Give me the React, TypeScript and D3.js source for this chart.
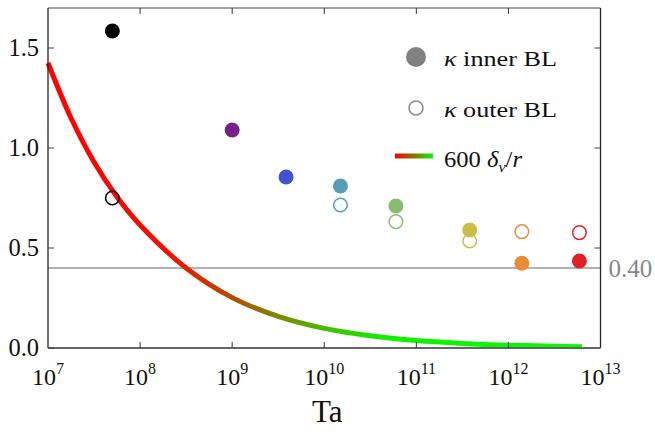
import React from 'react';
import * as d3 from 'd3';

// Ta positions of the measured points and kappa values (inner / outer BL)
const TA = [5e7, 1e9, 3.85e9, 1.5e10, 6e10, 3.8e11, 1.4e12, 5.9e12];
const INNER = [1.585, 1.09, 0.855, 0.81, 0.71, 0.59, 0.424, 0.435];
const OUTER: (number | null)[] = [0.75, null, null, 0.715, 0.632, 0.535, 0.582, 0.577];
const COLORS = ['#000000', '#7a1f87', '#4153cf', '#559eb9', '#88bc6f', '#c9be48', '#e98b35', '#dd2125'];

// 600 delta_nu / r
const CURVE_TA = [1e7, 1.78e7, 3.16e7, 5.62e7, 1e8, 3.16e8, 1e9, 3.16e9, 1e10, 3.16e10, 1e11, 3.16e11, 1e12, 3.16e12, 6.3e12];
const CURVE_Y = [1.425, 1.15, 0.93, 0.755, 0.615, 0.4, 0.252, 0.158, 0.098, 0.061, 0.037, 0.023, 0.014, 0.009, 0.006];
const GRAD_TA = [1e7, 2e8, 1e9, 3.2e9, 1.2e10, 5e10, 1e13];
const GRAD_COL = ['#ff0000', '#f21000', '#b44c00', '#7a8a00', '#40c400', '#10f000', '#00ff00'];

const X_TICKS = [7, 8, 9, 10, 11, 12, 13];
const Y_TICKS = [0, 0.5, 1.0, 1.5];
const REF_LINE = 0.4;

const W = 655;
const H = 437;
const font = '"Liberation Serif", "DejaVu Serif", serif';

export default function App() {
  const x = d3.scaleLog().domain([1e7, 1e13]).range([48, 600.5]);
  const y = d3.scaleLinear().domain([0, 1.7]).range([348, 8]);

  const line = d3
    .line<number>()
    .x((d, i) => x(CURVE_TA[i]))
    .y((d) => y(d))
    .curve(d3.curveCatmullRom.alpha(0.5));

  const [x0, x1] = x.range();
  const [yb, yt] = y.range();

  return (
    <div style={{ position: 'fixed', left: 0, top: 0 }}>
      <svg width={W} height={H} style={{ display: 'block', background: '#fff' }} fontFamily={font}>
        <defs>
          <linearGradient id="curveGrad" gradientUnits="userSpaceOnUse" x1={x0} x2={x1} y1={0} y2={0}>
            {GRAD_TA.map((t, i) => (
              <stop key={i} offset={(x(t) - x0) / (x1 - x0)} stopColor={GRAD_COL[i]} />
            ))}
          </linearGradient>
          <linearGradient id="legGrad" x1="0" x2="1" y1="0" y2="0">
            <stop offset="0" stopColor="#ff0000" />
            <stop offset="0.5" stopColor="#8a7000" />
            <stop offset="1" stopColor="#00ff00" />
          </linearGradient>
        </defs>

        {/* reference line */}
        <line x1={x0} x2={x1} y1={y(REF_LINE)} y2={y(REF_LINE)} stroke="#999" strokeWidth={1.3} />
        <text x={x1 + 8} y={y(REF_LINE) + 9} fontSize={25} fill="#888">0.40</text>

        {/* curve */}
        <path d={line(CURVE_Y) || ''} fill="none" stroke="url(#curveGrad)" strokeWidth={5} />

        {/* frame */}
        <line x1={x0} x2={x0} y1={yt} y2={yb} stroke="#222" strokeWidth={1.3} />
        <line x1={x1} x2={x1} y1={yt} y2={yb} stroke="#222" strokeWidth={1.3} />
        <line x1={x0} x2={x1} y1={yt} y2={yt} stroke="#444" strokeWidth={1.2} />
        <line x1={x0} x2={x1} y1={yb} y2={yb} stroke="#666" strokeWidth={2} />

        {Y_TICKS.map((v) => (
          <g key={v}>
            <line x1={x0} x2={x0 + 6} y1={y(v)} y2={y(v)} stroke="#444" strokeWidth={1} />
            {v > 0 && <line x1={x1} x2={x1 - 6} y1={y(v)} y2={y(v)} stroke="#444" strokeWidth={1} />}
            <text x={x0 - 9} y={y(v) + 8} fontSize={24.5} textAnchor="end" fill="#111">
              {v.toFixed(1)}
            </text>
          </g>
        ))}

        {X_TICKS.map((e) => {
          const px = x(Math.pow(10, e));
          return (
            <g key={e}>
              {e > 7 && e < 13 && (
                <>
                  <line x1={px} x2={px} y1={yb} y2={yb - 6} stroke="#333" strokeWidth={1} />
                  <line x1={px} x2={px} y1={yt} y2={yt + 6} stroke="#333" strokeWidth={1} />
                </>
              )}
              <text x={px} y={385} fontSize={24} textAnchor="middle" fill="#111">
                10
                <tspan dy={-11} fontSize={16}>{e}</tspan>
              </text>
            </g>
          );
        })}

        <text x={(x0 + x1) / 2 + 3} y={422} fontSize={31} textAnchor="middle" fill="#111">Ta</text>

        {/* points */}
        {TA.map((t, i) => (
          <circle key={'i' + i} cx={x(t)} cy={y(INNER[i])} r={7.5} fill={COLORS[i]} />
        ))}
        {TA.map((t, i) =>
          OUTER[i] == null ? null : (
            <circle key={'o' + i} cx={x(t)} cy={y(OUTER[i] as number)} r={6.8} fill="none" stroke={COLORS[i]} strokeWidth={1.5} />
          )
        )}

        {/* legend */}
        <circle cx={416} cy={57} r={10} fill="#808080" />
        <g transform="translate(444,66) scale(1.19,1)">
          <text x={0} y={0} fontSize={22} fill="#111">
            <tspan fontStyle="italic">κ</tspan> inner BL
          </text>
        </g>
        <circle cx={416} cy={108} r={7} fill="none" stroke="#888" strokeWidth={1.5} />
        <g transform="translate(444,117) scale(1.19,1)">
          <text x={0} y={0} fontSize={22} fill="#111">
            <tspan fontStyle="italic">κ</tspan> outer BL
          </text>
        </g>
        <rect x={395} y={153.5} width={38} height={5} fill="url(#legGrad)" />
        <g transform="translate(444,167) scale(1.07,1)">
          <text x={0} y={0} fontSize={23} fill="#111">
            600 <tspan fontStyle="italic">δ</tspan>
            <tspan fontStyle="italic" fontSize={15} dy={5}>ν</tspan>
            <tspan dy={-5}>/</tspan>
            <tspan fontStyle="italic">r</tspan>
          </text>
        </g>
      </svg>
    </div>
  );
}
